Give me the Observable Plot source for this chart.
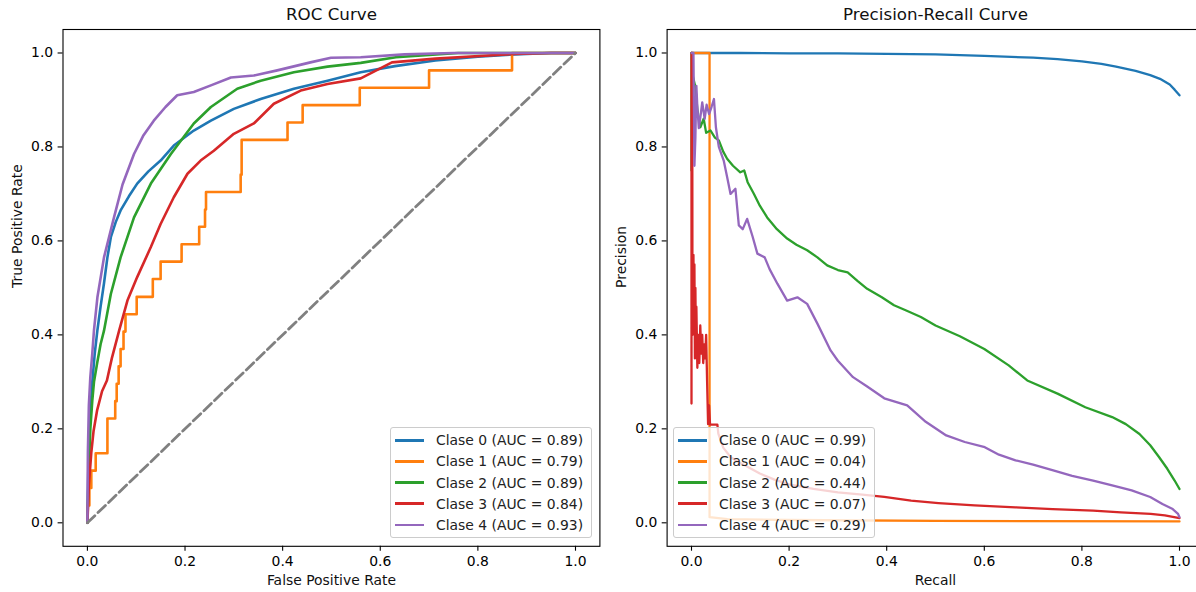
<!DOCTYPE html>
<html><head><meta charset="utf-8">
<script src="https://cdn.jsdelivr.net/npm/d3@7"></script>
<script src="https://cdn.jsdelivr.net/npm/@observablehq/plot@0.6"></script>
<style>
html,body{margin:0;padding:0;overflow:hidden;background:#fff;width:1196px;height:592px;}
#wrap{position:relative;width:1196px;height:592px;overflow:hidden;font-family:"DejaVu Sans";}
.panel{position:absolute;top:0;}
.legend{position:absolute;box-sizing:border-box;background:rgba(255,255,255,0.8);border:1px solid #ccc;border-radius:3px;padding-top:2px;font-size:13.9px;color:#222;}
.row{height:21.2px;display:flex;align-items:center;white-space:nowrap;}
.sw{width:29px;height:2.8px;margin-left:4px;margin-right:12px;flex:none;}
</style></head><body><div id="wrap"></div><script>
const classNames = ["Clase 0","Clase 1","Clase 2","Clase 3","Clase 4"];
const classColors = ["#1f77b4","#ff7f0e","#2ca02c","#d62728","#9467bd"];
const rocAuc = [0.89,0.79,0.89,0.84,0.93];
const prAuc = [0.99,0.04,0.44,0.07,0.29];
const axisTicks = [0,0.2,0.4,0.6,0.8,1.0];
const chanceLine = [[0,0],[1,1]];

// ROC curves: [FPR, TPR]
const rocClass0 = [[0,0],[0.002,0.12],[0.005,0.22],[0.01,0.3],[0.015,0.36],[0.0205,0.41],[0.027,0.46],[0.034,0.51],[0.041,0.565],[0.048,0.608],[0.058,0.64],[0.068,0.665],[0.085,0.695],[0.102,0.722],[0.125,0.748],[0.15,0.771],[0.177,0.803],[0.218,0.835],[0.253,0.856],[0.30,0.881],[0.355,0.902],[0.423,0.924],[0.492,0.941],[0.56,0.959],[0.63,0.972],[0.713,0.984],[0.8,0.992],[0.875,0.997],[0.95,1.0],[1,1]];
const rocClass1 = [[0,0],[0,0.037],[0.004,0.037],[0.004,0.074],[0.008,0.074],[0.008,0.111],[0.017,0.111],[0.017,0.148],[0.041,0.148],[0.041,0.222],[0.057,0.222],[0.057,0.259],[0.06,0.259],[0.06,0.296],[0.064,0.296],[0.064,0.333],[0.068,0.333],[0.068,0.370],[0.074,0.370],[0.074,0.407],[0.078,0.407],[0.078,0.444],[0.101,0.444],[0.101,0.481],[0.134,0.481],[0.134,0.519],[0.150,0.519],[0.150,0.556],[0.193,0.556],[0.193,0.593],[0.229,0.593],[0.229,0.63],[0.241,0.63],[0.241,0.667],[0.243,0.667],[0.243,0.704],[0.314,0.704],[0.314,0.741],[0.316,0.741],[0.316,0.815],[0.41,0.815],[0.41,0.852],[0.441,0.852],[0.441,0.889],[0.558,0.889],[0.558,0.926],[0.70,0.926],[0.70,0.963],[0.870,0.963],[0.870,1.0],[1,1]];
const rocClass2 = [[0,0],[0.003,0.12],[0.006,0.2],[0.01,0.26],[0.0135,0.30],[0.02,0.34],[0.027,0.38],[0.034,0.409],[0.048,0.487],[0.068,0.565],[0.0955,0.65],[0.13,0.722],[0.171,0.785],[0.218,0.85],[0.253,0.885],[0.307,0.924],[0.355,0.941],[0.423,0.959],[0.492,0.971],[0.56,0.979],[0.632,0.991],[0.7,0.996],[0.76,1.0],[1,1]];
const rocClass3 = [[0,0],[0.003,0.08],[0.008,0.15],[0.0127,0.196],[0.02,0.24],[0.03,0.28],[0.04,0.303],[0.05,0.35],[0.065,0.409],[0.082,0.473],[0.102,0.523],[0.13,0.587],[0.15,0.636],[0.177,0.693],[0.205,0.743],[0.232,0.771],[0.259,0.792],[0.30,0.828],[0.341,0.85],[0.382,0.892],[0.437,0.92],[0.492,0.934],[0.56,0.946],[0.624,0.98],[0.713,0.988],[0.875,0.998],[0.95,1],[1,1]];
const rocClass4 = [[0,0],[0.001,0.15],[0.003,0.25],[0.006,0.31],[0.01,0.36],[0.0135,0.41],[0.0205,0.48],[0.034,0.565],[0.0545,0.65],[0.072,0.72],[0.0955,0.785],[0.115,0.825],[0.136,0.856],[0.16,0.885],[0.184,0.91],[0.218,0.917],[0.253,0.931],[0.294,0.948],[0.341,0.952],[0.389,0.963],[0.457,0.98],[0.499,0.99],[0.56,0.991],[0.65,0.997],[0.75,1.0],[1,1]];

// Precision-Recall curves: [Recall, Precision]
const prClass0 = [[0,1],[0.1,1.0],[0.2,0.999],[0.3,0.999],[0.4,0.998],[0.5,0.997],[0.6,0.994],[0.7,0.99],[0.75,0.987],[0.8,0.982],[0.84,0.977],[0.87,0.971],[0.91,0.962],[0.94,0.953],[0.96,0.945],[0.98,0.933],[0.99,0.922],[1,0.91]];
const prClass1 = [[0,1],[0.037,1],[0.037,0.012],[0.074,0.008],[0.2,0.006],[0.5,0.004],[1,0.003]];
const prClass2 = [[0,0.75],[0,1.0],[0.003,0.95],[0.008,0.927],[0.012,0.88],[0.018,0.842],[0.025,0.86],[0.03,0.83],[0.039,0.835],[0.048,0.82],[0.056,0.814],[0.065,0.79],[0.073,0.775],[0.085,0.76],[0.1,0.746],[0.108,0.75],[0.115,0.725],[0.128,0.70],[0.14,0.675],[0.155,0.65],[0.175,0.625],[0.196,0.605],[0.215,0.592],[0.237,0.58],[0.258,0.565],[0.278,0.548],[0.3,0.538],[0.32,0.533],[0.34,0.515],[0.36,0.498],[0.39,0.48],[0.415,0.463],[0.44,0.452],[0.47,0.438],[0.5,0.42],[0.55,0.397],[0.6,0.37],[0.65,0.335],[0.688,0.303],[0.75,0.275],[0.807,0.246],[0.862,0.225],[0.89,0.21],[0.918,0.189],[0.94,0.165],[0.958,0.14],[0.975,0.115],[0.99,0.09],[1,0.072]];
const prClass3 = [[0,0.254],[0,1.0],[0.0015,1.0],[0.002,0.4],[0.003,0.5],[0.004,0.57],[0.005,0.42],[0.006,0.55],[0.007,0.35],[0.008,0.5],[0.009,0.38],[0.01,0.46],[0.012,0.33],[0.014,0.4],[0.016,0.34],[0.018,0.42],[0.02,0.36],[0.022,0.4],[0.024,0.34],[0.026,0.38],[0.028,0.35],[0.03,0.4],[0.032,0.3],[0.034,0.21],[0.036,0.25],[0.038,0.209],[0.053,0.209],[0.055,0.19],[0.065,0.16],[0.08,0.14],[0.095,0.13],[0.11,0.122],[0.14,0.105],[0.17,0.092],[0.2,0.082],[0.25,0.072],[0.3,0.065],[0.35,0.06],[0.395,0.055],[0.45,0.047],[0.506,0.042],[0.58,0.037],[0.664,0.033],[0.74,0.029],[0.823,0.026],[0.88,0.022],[0.941,0.019],[0.97,0.016],[1,0.01]];
const prClass4 = [[0,1.0],[0.004,1.0],[0.006,0.76],[0.008,0.82],[0.01,0.93],[0.012,0.885],[0.015,0.84],[0.019,0.87],[0.022,0.895],[0.027,0.86],[0.031,0.89],[0.036,0.87],[0.041,0.885],[0.046,0.902],[0.05,0.842],[0.056,0.8],[0.066,0.771],[0.073,0.736],[0.08,0.70],[0.09,0.711],[0.097,0.633],[0.105,0.625],[0.114,0.647],[0.125,0.61],[0.135,0.573],[0.15,0.565],[0.16,0.54],[0.176,0.509],[0.196,0.473],[0.217,0.48],[0.237,0.466],[0.258,0.424],[0.285,0.367],[0.3,0.345],[0.331,0.31],[0.36,0.29],[0.395,0.265],[0.442,0.25],[0.48,0.215],[0.522,0.186],[0.56,0.172],[0.601,0.161],[0.63,0.145],[0.664,0.133],[0.7,0.124],[0.743,0.111],[0.78,0.1],[0.823,0.09],[0.86,0.08],[0.902,0.069],[0.94,0.055],[0.965,0.04],[0.985,0.03],[0.997,0.019],[1,0.012]];

const toRows = (list) => list.flatMap((pts, i) => pts.map(([x, y]) => ({x, y, c: classNames[i]})));
const rocRows = toRows([rocClass0, rocClass1, rocClass2, rocClass3, rocClass4]);
const prRows = toRows([prClass0, prClass1, prClass2, prClass3, prClass4]);
const chanceRows = chanceLine.map(([x, y]) => ({x, y}));

function panel({rows, title, xLabel, yLabel, width, marginLeft, marginRight, sw, extra}) {
  const axisOpts = {ticks: axisTicks, tickSize: 4.9, tickPadding: 4.9, tickFormat: d3.format(".1f"), label: null, fontSize: 13.9, strokeWidth: 1.1};
  return Plot.plot({
    width, height: 592, marginTop: 29, marginBottom: 46.2, marginLeft, marginRight,
    style: {fontFamily: "DejaVu Sans", fontSize: "13.9px", color: "black", background: "transparent", overflow: "visible", maxWidth: "none"},
    x: {domain: [-0.05, 1.05]},
    y: {domain: [-0.05, 1.05]},
    color: {domain: classNames, range: classColors},
    marks: [
      Plot.axisX(axisOpts),
      Plot.axisY(axisOpts),
      Plot.line(rows, {x: "x", y: "y", z: "c", stroke: "c", strokeWidth: sw, strokeLinejoin: "round", curve: "linear"}),
      ...extra,
      Plot.frame({stroke: "black", strokeWidth: 1.1}),
      Plot.text([title], {text: d => d, frameAnchor: "top", lineAnchor: "middle", dy: -14.5, fontSize: 16.7, fill: "#111"}),
      Plot.text([xLabel], {text: d => d, frameAnchor: "bottom", lineAnchor: "middle", dy: 34.4, fontSize: 13.9, fill: "#111"}),
      Plot.text([yLabel], {text: d => d, frameAnchor: "left", lineAnchor: "middle", rotate: -90, dx: -45.5, fontSize: 13.9, fill: "#111"})
    ]
  });
}

const wrap = document.getElementById("wrap");
function addPanel(svg, left) {
  const d = document.createElement("div");
  d.className = "panel";
  d.style.left = left + "px";
  d.appendChild(svg);
  wrap.appendChild(d);
}
addPanel(panel({rows: rocRows, title: "ROC Curve", xLabel: "False Positive Rate", yLabel: "True Positive Rate",
  width: 605, marginLeft: 62.5, marginRight: 5.6, sw: 2.6,
  extra: [Plot.line(chanceRows, {x: "x", y: "y", stroke: "#808080", strokeWidth: 2.8, strokeDasharray: "10.3,4.4"})]}), 0);
addPanel(panel({rows: prRows, title: "Precision-Recall Curve", xLabel: "Recall", yLabel: "Precision",
  width: 620, marginLeft: 61.6, marginRight: 21.6, sw: 2.3, extra: []}), 605);

function addLegend(left, aucs) {
  const lg = document.createElement("div");
  lg.className = "legend";
  Object.assign(lg.style, {left: left + "px", top: "426.7px", width: "202px", height: "111px"});
  classNames.forEach((name, i) => {
    const row = document.createElement("div");
    row.className = "row";
    const sw = document.createElement("span");
    sw.className = "sw";
    sw.style.background = classColors[i];
    const t = document.createElement("span");
    t.textContent = `${name} (AUC = ${aucs[i].toFixed(2)})`;
    row.appendChild(sw); row.appendChild(t);
    lg.appendChild(row);
  });
  wrap.appendChild(lg);
}
addLegend(390, rocAuc);
addLegend(673, prAuc);
</script></body></html>
